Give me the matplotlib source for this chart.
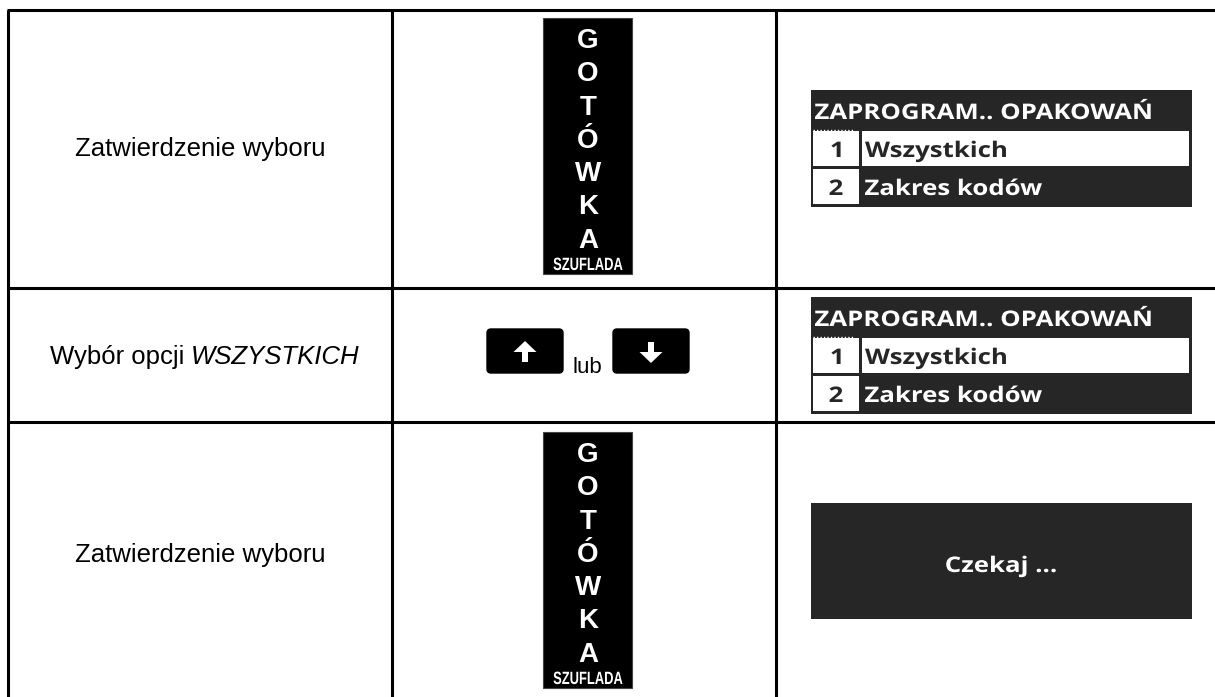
import matplotlib.pyplot as plt
from matplotlib.patches import Rectangle, FancyBboxPatch, FancyArrow, PathPatch
from matplotlib.textpath import TextPath
from matplotlib.font_manager import FontProperties
from matplotlib.transforms import Affine2D

## Table content
row_labels = ["Zatwierdzenie wyboru", "Wybór opcji ", "Zatwierdzenie wyboru"]
row_label_italic = ["", "WSZYSTKICH", ""]
key_letters = ["G", "O", "T", "Ó", "W", "K", "A"]
key_caption = "SZUFLADA"
menu_title = "ZAPROGRAM.. OPAKOWAŃ"
menu_numbers = ["1", "2"]
menu_items = ["Wszystkich", "Zakres kodów"]
menu_selected = 0
wait_text = "Czekaj ..."
or_text = "lub"

## Layout (pixels)
W, H = 1215, 697
col_x = [8, 392, 776]
row_y = [10, 288, 422]
dark = "#262626"

fig = plt.figure(figsize=(W / 100, H / 100), dpi=100)
ax = fig.add_axes([0, 0, 1, 1])
ax.set_xlim(0, W)
ax.set_ylim(H, 0)
ax.axis("off")


def path_text(x, y, s, size, sx=1.0, ha="left", color="white",
              family=("Open Sans", "DejaVu Sans"), weight="bold", width=None):
    # text drawn as a path so it can be squeezed / stretched sideways
    tp = TextPath((0, 0), s, size=size,
                  prop=FontProperties(family=list(family), weight=weight))
    ext = tp.get_extents()
    if width:
        sx = width / ext.width
    w = ext.width * sx
    x0 = x - ext.x0 * sx - (w / 2 if ha == "center" else 0)
    tr = Affine2D().scale(sx, -1).translate(x0, y)
    ax.add_patch(PathPatch(tr.transform_path(tp), facecolor=color, lw=0))


## Grid lines
for x in col_x:
    ax.plot([x, x], [row_y[0], H + 5], color="black", lw=2.2, solid_capstyle="butt")
for y in row_y:
    ax.plot([col_x[0] - 1, W + 5], [y, y], color="black", lw=2.2, solid_capstyle="butt")

## Left column texts
label_font = dict(family=["Liberation Sans", "DejaVu Sans"], fontsize=18.5, color="black")
centers = [149, 357, 555]
for lab, ital, cy in zip(row_labels, row_label_italic, centers):
    if ital:
        ax.text(191, cy, lab, ha="right", va="center", **label_font)
        ax.text(191, cy, ital, ha="left", va="center", style="italic", **label_font)
    else:
        ax.text(200, cy, lab, ha="center", va="center", **label_font)


## Cash key
def cash_key(top):
    ax.add_patch(Rectangle((543, top), 89, 256, facecolor="black",
                           edgecolor="#444444", lw=0.8))
    for i, ch in enumerate(key_letters):
        ax.text(588, top + 30 + i * 33.3, ch, ha="center", va="baseline",
                color="white", fontsize=20, fontweight="bold",
                family=["Liberation Sans", "DejaVu Sans"])
    path_text(588, top + 252, key_caption, 17.8, ha="center", width=69,
              family=("Liberation Sans", "DejaVu Sans"))


cash_key(18)
cash_key(432)

## Arrow keys
for kx, up in [(487, True), (613, False)]:
    ax.add_patch(FancyBboxPatch((kx + 3, 332), 70, 38,
                                boxstyle="round,pad=3,rounding_size=4",
                                facecolor="black", edgecolor="black"))
    cx = kx + 38
    if up:
        ax.add_patch(FancyArrow(cx, 362, 0, -21, width=6, head_width=23,
                                head_length=11, length_includes_head=True,
                                color="white", lw=0))
    else:
        ax.add_patch(FancyArrow(cx, 342, 0, 21, width=6, head_width=23,
                                head_length=11, length_includes_head=True,
                                color="white", lw=0))
ax.text(587.5, 373, or_text, ha="center", va="baseline", fontsize=16,
        family=["Liberation Sans", "DejaVu Sans"])

## Display menus
disp_size = 21.5
disp_sx = 1.2


def menu_display(top):
    ax.add_patch(Rectangle((811, top), 381, 117, facecolor=dark, lw=0))
    path_text(815, top + 29, menu_title, disp_size, sx=disp_sx)
    ax.plot([813, 853], [top + 40, top + 40], color="white", lw=1,
            linestyle=(0, (1, 1.5)))
    for i, (num, item) in enumerate(zip(menu_numbers, menu_items)):
        ry = top + 40 + i * 38
        ax.add_patch(Rectangle((813, ry + 1), 46, 35, facecolor="white", lw=0))
        path_text(836, ry + 27, num, disp_size, sx=disp_sx, ha="center", color=dark)
        sel = i == menu_selected
        if sel:
            ax.add_patch(Rectangle((862, ry + 1), 327, 35, facecolor="white", lw=0))
        path_text(865, ry + 27, item, disp_size, sx=disp_sx,
                  color=dark if sel else "white")


menu_display(90)
menu_display(297)

## Wait display
ax.add_patch(Rectangle((811, 503), 381, 116, facecolor=dark, lw=0))
path_text(1001, 572, wait_text, disp_size, sx=disp_sx, ha="center")

fig.savefig("out.png", dpi=100, facecolor="white")
